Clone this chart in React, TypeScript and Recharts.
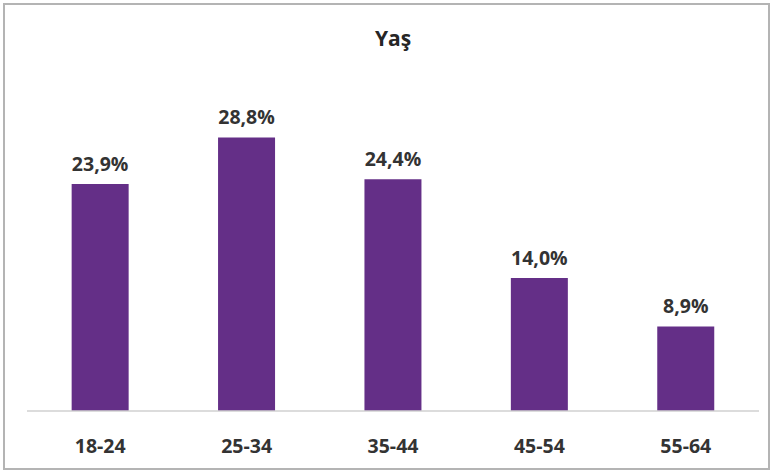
import React from "react";
import { BarChart, Bar, XAxis, YAxis, LabelList } from "recharts";

const ageGroups = ["18-24", "25-34", "35-44", "45-54", "55-64"];
const shares = [23.9, 28.8, 24.4, 14.0, 8.9];

const data = ageGroups.map((age, i) => ({ age, share: shares[i] }));

const font = "'Open Sans', 'Noto Sans', sans-serif";

const formatPct = (v: any) => `${Number(v).toFixed(1).replace(".", ",")}%`;

const App = () => {
  return (
    <div style={{ position: "fixed", left: 0, top: 0, width: 773, height: 473, background: "#fff" }}>
      <div
        style={{
          position: "absolute",
          left: 3,
          top: 3,
          width: 763,
          height: 463,
          border: "2px solid #b4b4b4",
        }}
      />
      <div
        style={{
          position: "absolute",
          left: 27,
          width: 732,
          top: 24,
          textAlign: "center",
          fontFamily: font,
          fontWeight: 700,
          fontSize: 21,
          color: "#262626",
        }}
      >
        Yaş
      </div>
      <BarChart
        width={773}
        height={473}
        data={data}
        margin={{ top: 126, right: 14, bottom: 32, left: 27 }}
        barCategoryGap="30.5%"
      >
        <XAxis
          dataKey="age"
          tickLine={false}
          axisLine={{ stroke: "#d0d0d0", strokeWidth: 1.5 }}
          tickMargin={22}
          height={30}
          tick={{ fill: "#333", fontFamily: font, fontWeight: 700, fontSize: 19.5 }}
        />
        <YAxis hide domain={[0, 30]} />
        <Bar dataKey="share" fill="#642f87" isAnimationActive={false}>
          <LabelList
            dataKey="share"
            position="top"
            offset={13}
            formatter={formatPct}
            style={{ fill: "#333", fontFamily: font, fontWeight: 700, fontSize: 19.5 }}
          />
        </Bar>
      </BarChart>
    </div>
  );
};

export default App;
